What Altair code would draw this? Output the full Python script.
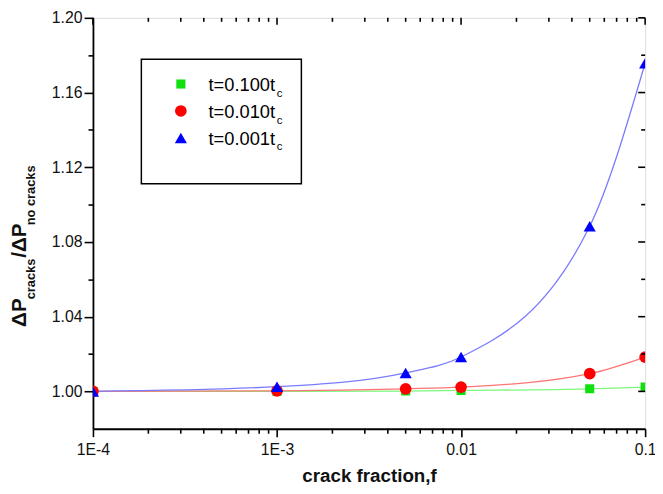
import altair as alt
import pandas as pd

# ---------------- data ----------------
f_values = [1e-4, 1e-3, 5e-3, 1e-2, 5e-2, 1e-1]
series_names = ["t=0.100t", "t=0.010t", "t=0.001t"]
green_vals = [1.0000, 1.0000, 1.0002, 1.0005, 1.0014, 1.0023]
red_vals = [1.0000, 1.0003, 1.0014, 1.0023, 1.0095, 1.0184]
blue_vals = [1.0000, 1.0025, 1.0099, 1.0184, 1.0884, 1.1757]

x_major = [1e-4, 1e-3, 1e-2, 1e-1]
x_major_labels = ["1E-4", "1E-3", "0.01", "0.1"]
y_major = [1.00, 1.04, 1.08, 1.12, 1.16, 1.20]
y_minor = [1.02, 1.06, 1.10, 1.14, 1.18]

# ---------------- styling ----------------
W, H = 559, 416
FONT = "Liberation Sans"
point_colors = ["#10e010", "#ff0000", "#0000ff"]
line_colors = ["#7cf77c", "#ff7575", "#7b7bff"]
shapes = ["square", "circle", "triangle-up"]
sizes = [85, 140, 150]

x_minor = [round(m * d, 6) for d in x_major[:-1] for m in range(2, 10)]
y_all = sorted(y_major + y_minor)

x_label_expr = " : ".join(
    f"abs(datum.value - {v})/{v} < 1e-6 ? '{lab}'" for v, lab in zip(x_major, x_major_labels)
) + " : ''"
is_major_y = "abs(datum.value*25 - round(datum.value*25)) < 1e-6"

x_axis = alt.Axis(
    values=x_major, labelExpr=x_label_expr, grid=False, tickSize=8,
    tickColor="black", tickWidth=1.6, domainColor="black", domainWidth=1.8,
    labelFont=FONT, labelFontSize=16, labelColor="#111", labelPadding=5,
    labelFlush=False, labelOverlap=False,
    title="crack fraction,f", titleFont=FONT, titleFontSize=19,
    titleFontWeight="bold", titleColor="#111", titlePadding=9,
)
y_axis = alt.Axis(
    values=y_all, labelExpr=f"{is_major_y} ? format(datum.value, '.2f') : ''", grid=False,
    tickSize={"condition": {"test": is_major_y, "value": 9}, "value": 5},
    tickColor="black", tickWidth=1.6, domainColor="black", domainWidth=1.8,
    labelFont=FONT, labelFontSize=16, labelColor="#111", labelPadding=2,
    labelOverlap=False, labelFlush=False, title=None,
)
x_scale = alt.Scale(type="log", domain=[1e-4, 0.1], nice=False)
y_scale = alt.Scale(domain=[0.98, 1.20], nice=False, zero=False)
X = alt.X("f:Q", scale=x_scale, axis=x_axis)
Y = alt.Y("ratio:Q", scale=y_scale, axis=y_axis)

layers = []
all_vals = [green_vals, red_vals, blue_vals]
for i, vals in enumerate(all_vals):
    d = pd.DataFrame({"f": f_values, "ratio": vals})
    layers.append(
        alt.Chart(d).mark_line(color=line_colors[i], strokeWidth=1.3,
                               interpolate="monotone", clip=True).encode(x=X, y=Y)
    )
for i, vals in enumerate(all_vals):
    d = pd.DataFrame({"f": f_values, "ratio": vals})
    layers.append(
        alt.Chart(d).mark_point(shape=shapes[i], filled=True, color=point_colors[i],
                                size=sizes[i], opacity=1, clip=True).encode(x=X, y=Y)
    )

# minor ticks (outside, bottom/left) and inward ticks on top/right edges
xmaj = pd.DataFrame({"f": x_major})
xmin = pd.DataFrame({"f": x_minor})
ymaj = pd.DataFrame({"ratio": y_major})
ymin = pd.DataFrame({"ratio": y_minor})


def vtick(df, ypos, length):
    return alt.Chart(df).mark_tick(orient="vertical", size=length, thickness=1.6,
                                   color="black", opacity=1).encode(x=X, y=alt.value(ypos))


def htick(df, xpos, length):
    return alt.Chart(df).mark_tick(orient="horizontal", size=length, thickness=1.6,
                                   color="black", opacity=1).encode(y=Y, x=alt.value(xpos))


layers.append(vtick(xmin, H + 2.5, 5))
layers.append(vtick(xmaj, 3.5, 7))
layers.append(vtick(xmin, 2, 4))
layers.append(htick(ymaj, W - 3.5, 7))
layers.append(htick(ymin, W - 2, 4))

one = pd.DataFrame({"a": [0]})

# legend box
layers.append(alt.Chart(one).mark_rect(fill="white", stroke="black", strokeWidth=1.5).encode(
    x=alt.value(49), x2=alt.value(211), y=alt.value(42), y2=alt.value(168)))
for i, name in enumerate(series_names):
    sym_y = 67 + i * 27.3
    base_y = 74.3 + i * 27
    layers.append(alt.Chart(one).mark_point(shape=shapes[i], filled=True, color=point_colors[i],
                                            size=sizes[i], opacity=1).encode(
        x=alt.value(89), y=alt.value(sym_y)))
    layers.append(alt.Chart(pd.DataFrame({"t": [name]})).mark_text(
        font=FONT, fontSize=18.5, align="left", baseline="alphabetic", color="black").encode(
        x=alt.value(117), y=alt.value(base_y), text="t:N"))
    layers.append(alt.Chart(pd.DataFrame({"t": ["c"]})).mark_text(
        font=FONT, fontSize=11.5, align="left", baseline="alphabetic", color="black").encode(
        x=alt.value(186), y=alt.value(base_y + 6), text="t:N"))

# y-axis title with subscripts (rotated)
title_parts = [("ΔP", 21, -68, 313), ("cracks", 13, -59, 285),
               ("/ΔP", 21, -68, 243), ("no cracks", 13, -59, 210)]
for txt, fs, tx, ty in title_parts:
    layers.append(alt.Chart(pd.DataFrame({"t": [txt]})).mark_text(
        font=FONT, fontSize=fs, fontWeight="bold", angle=270, align="left",
        baseline="alphabetic", color="#111").encode(
        x=alt.value(tx), y=alt.value(ty), text="t:N"))

chart = alt.layer(*layers).properties(
    width=W, height=H,
    autosize=alt.AutoSizeParams(type="none"),
    padding={"left": 86, "top": 7, "right": 10, "bottom": 56},
).configure_view(stroke="black", strokeWidth=1.8).configure(background="white")

chart.save("out.html", embed_options={"renderer": "svg", "actions": False})
